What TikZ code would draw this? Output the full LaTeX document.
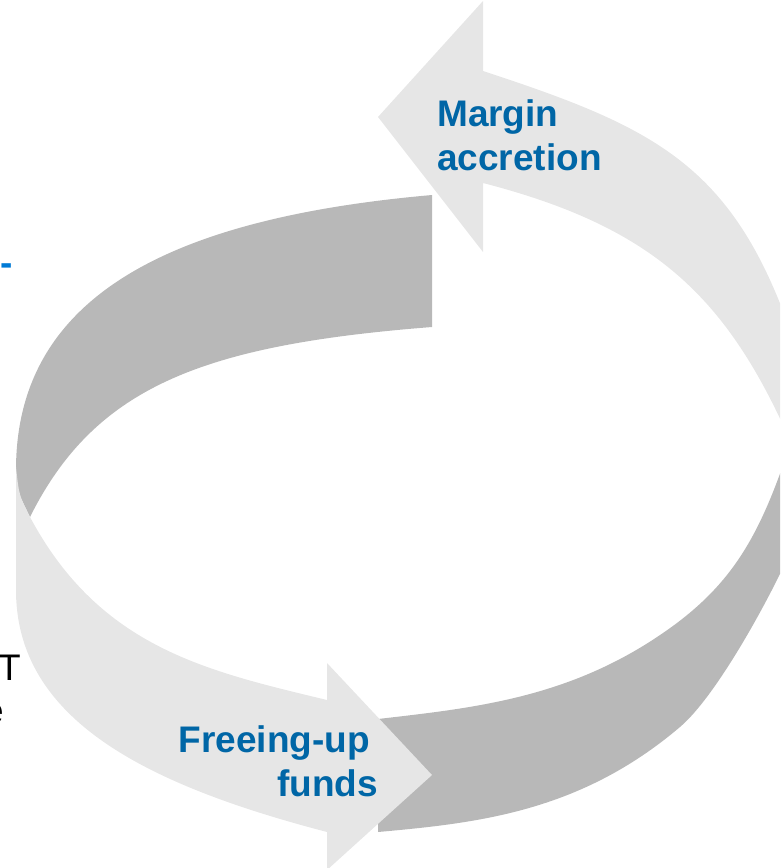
\documentclass[tikz,border=0pt]{standalone}
\usepackage{fontspec}
\setmainfont{Liberation Sans}
\definecolor{ltgray}{RGB}{230,230,230}
\definecolor{dkgray}{RGB}{184,184,184}
\definecolor{lblblue}{RGB}{0,102,166}
\definecolor{dashblue}{RGB}{0,122,214}
\begin{document}
\begin{tikzpicture}[x=1pt, y=-1pt, line join=round,
	lt/.style={fill=ltgray}, dk/.style={fill=dkgray},
	lbl/.style={font=\fontsize{37}{44}\selectfont\bfseries, text=lblblue, inner sep=0pt},
	side/.style={font=\fontsize{37}{44}\selectfont, inner sep=0pt}]
	\useasboundingbox (0,0) rectangle (780,868);
	\clip (0,0) rectangle (780,868);
	% back band
	\fill[dk] (432,195) .. controls (172,218) and (16,295) .. (16,470) -- (17,490) -- (30,517)
		.. controls (95,387) and (202,345) .. (432,327) -- cycle;
	% front band
	\fill[dk] (378,719) .. controls (473,708) and (568,698.5) .. (663,633)
		.. controls (733,585) and (760,535) .. (790,445) -- (810,445) -- (810,530) -- (800,530)
		.. controls (780,580) and (720,693) .. (680,727)
		.. controls (580,812) and (478,823) .. (378,832) -- cycle;
	% freeing-up arrow
	\fill[lt] (30,517) .. controls (100,648) and (207,671) .. (327,700)
		-- (327,663) -- (432,775) -- (327,870) -- (327,832)
		.. controls (147,785) and (16,720) .. (16,590) -- (16,467)
		.. controls (19,495) .. (30,517) -- cycle;
	% margin arrow
	\fill[lt] (483,71) .. controls (663,130) and (740,168) .. (800,360) -- (815,360) -- (815,445) -- (792,445)
		.. controls (727,295.5) and (653,227) .. (483,183)
		-- (483,252) -- (378,117) -- (483,1) -- cycle;
	% labels
	\node[lbl, anchor=north west, align=left] (margin) at (437,99) {Margin\\accretion};
	\node[lbl, anchor=north east, align=right] (funds) at (378,725) {Freeing-up\hspace*{8pt}\\funds};
	\node[side, anchor=base east] (tfrag) at (21,680) {T};
	\node[side, anchor=base east] (efrag) at (4,723) {e};
	\node[lbl, text=dashblue, anchor=base west] (dash) at (0,275) {-};
\end{tikzpicture}
\end{document}
